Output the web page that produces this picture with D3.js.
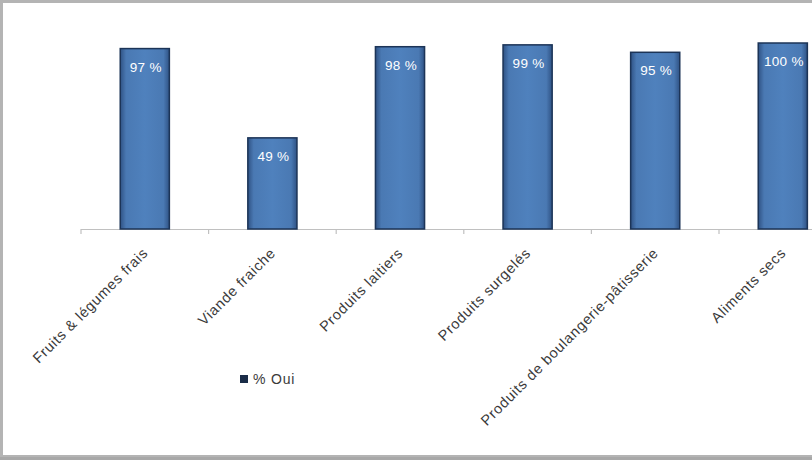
<!DOCTYPE html>
<html><head><meta charset="utf-8">
<script src="https://cdn.jsdelivr.net/npm/d3@7"></script>
<style>html,body{margin:0;padding:0;background:#fff;overflow:hidden}</style>
</head><body>
<svg id="c" width="812" height="460"></svg>
<script>
const categories = ["Fruits & légumes frais","Viande fraiche","Produits laitiers","Produits surgelés","Produits de boulangerie-pâtisserie","Aliments secs"];
const values = [97, 49, 98, 99, 95, 100];
const valueLabels = ["97 %","49 %","98 %","99 %","95 %","100 %"];
const seriesName = "% Oui";

const svg = d3.select("#c");
const W = 812, H = 460;
const x0 = 81, step = 127.6, baseY = 229, topY = 43;

// frame
svg.append("rect").attr("x",0).attr("y",0).attr("width",W).attr("height",H).attr("fill","#fff");
svg.append("rect").attr("x",1.5).attr("y",1.5).attr("width",W+20).attr("height",455).attr("fill","none").attr("stroke","#b4b4b4").attr("stroke-width",3);
svg.append("rect").attr("x",0).attr("y",457).attr("width",W).attr("height",3).attr("fill","#a8a8a8");

const defs = svg.append("defs");
const g = defs.append("linearGradient").attr("id","bg").attr("x1","0").attr("x2","1").attr("y1","0").attr("y2","0");
g.append("stop").attr("offset","0").attr("stop-color","#2f5284");
g.append("stop").attr("offset","0.12").attr("stop-color","#4a79b3");
g.append("stop").attr("offset","0.5").attr("stop-color","#4f81bd");
g.append("stop").attr("offset","0.88").attr("stop-color","#4a79b3");
g.append("stop").attr("offset","1").attr("stop-color","#2f5284");

const x = d3.scaleBand().domain(categories).range([x0, x0 + step*categories.length]).paddingInner(0.615).paddingOuter(0.3075);
const y = d3.scaleLinear().domain([0,100]).range([baseY, topY]);

// axis line and ticks at band boundaries
svg.append("line").attr("x1",x0).attr("x2",W).attr("y1",baseY+0.5).attr("y2",baseY+0.5).attr("stroke","#c0c0c0").attr("stroke-width",1.2);
const bounds = d3.range(categories.length+1).map(i => x0 + i*step);
svg.selectAll(".tk").data(bounds).enter().append("line")
  .attr("x1",d=>d).attr("x2",d=>d).attr("y1",baseY).attr("y2",baseY+5)
  .attr("stroke","#c0c0c0").attr("stroke-width",1.2);

// bars
svg.selectAll(".bar").data(values).enter().append("rect")
  .attr("x",(d,i)=>x(categories[i])).attr("width",x.bandwidth())
  .attr("y",d=>y(d)).attr("height",d=>baseY-y(d))
  .attr("fill","url(#bg)").attr("stroke","#1c3457").attr("stroke-width",1.5);

// value labels
svg.selectAll(".vl").data(values).enter().append("text")
  .attr("x",(d,i)=>x(categories[i])+x.bandwidth()/2+1)
  .attr("y",d=>y(d)+23)
  .attr("text-anchor","middle").attr("fill","#ffffff")
  .attr("font-family","Liberation Sans, Arial, sans-serif").attr("font-size",13.5).attr("letter-spacing",0.3)
  .text((d,i)=>valueLabels[i]);

// category labels
svg.selectAll(".cl").data(categories).enter().append("text")
  .attr("transform",d=>`translate(${x(d)+x.bandwidth()/2+4},${baseY+25}) rotate(-45)`)
  .attr("text-anchor","end")
  .attr("fill","#3a3a3a")
  .attr("font-family","Liberation Sans, Arial, sans-serif").attr("font-size",14.5).attr("letter-spacing",0.7)
  .text(d=>d);

// legend
svg.append("rect").attr("x",240).attr("y",375).attr("width",8).attr("height",8).attr("fill","#1a2c48");
svg.append("text").attr("x",253).attr("y",384).attr("fill","#3a3a3a")
  .attr("font-family","Liberation Sans, Arial, sans-serif").attr("font-size",14).attr("letter-spacing",0.8).text(seriesName);
</script>
</body></html>
